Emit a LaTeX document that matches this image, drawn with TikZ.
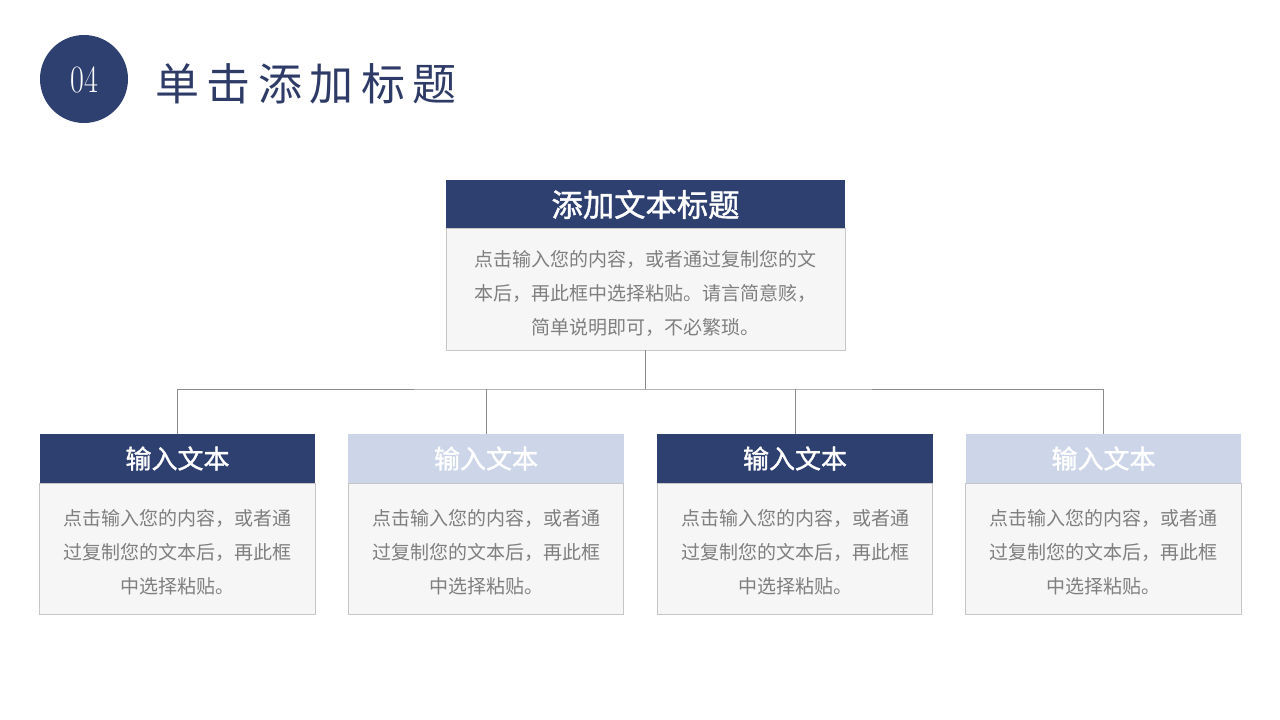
\documentclass[tikz,border=0pt]{standalone}
\usepackage{fontspec}
\newfontfamily\cjk{Noto Sans CJK SC}
\newfontfamily\cjkhead{Noto Sans CJK SC}[FakeBold=1.3]
\newfontfamily\cjktitle{Noto Sans CJK SC}[LetterSpace=17]
\definecolor{navy}{HTML}{2E4070}
\definecolor{lightnavy}{HTML}{CDD5E8}
\definecolor{bodyfill}{HTML}{F6F6F6}
\definecolor{bodyline}{HTML}{C6C6C6}
\definecolor{txtgray}{HTML}{7F7F7F}
\definecolor{linkgray}{HTML}{8C8C8C}
\definecolor{titlecol}{HTML}{2E3B66}
\tikzset{
  darkhead/.style={rectangle, fill=navy, inner sep=0pt, outer sep=0pt, text=white},
  lighthead/.style={rectangle, fill=lightnavy, inner sep=0pt, outer sep=0pt, text=white},
  bodybox/.style={rectangle, fill=bodyfill, draw=bodyline, line width=0.75pt, inner sep=0pt, outer sep=0pt},
  bodytext/.style={text=txtgray, align=center, inner sep=0pt, font=\cjk\fontsize{14.25}{25.5}\selectfont},
  smallhead/.style={minimum width=206.6pt, minimum height=36.75pt, font=\cjkhead\fontsize{19.5}{20}\selectfont},
  smallbody/.style={bodybox, minimum width=206.6pt, minimum height=98.25pt, anchor=north},
  link/.style={draw=linkgray, line width=0.75pt}
}
\begin{document}
\begin{tikzpicture}[x=0.75pt,y=-0.75pt]
\useasboundingbox (0,0) rectangle (1280,720);
% header
\node[circle, fill=navy, minimum size=66pt, inner sep=0pt] (num) at (84,79) {};
\node[text=white, font=\fontsize{29}{29}\selectfont, xscale=0.78] (numtxt) at (84,80) {04};
\node[anchor=west, text=titlecol, font=\cjktitle\fontsize{33}{33}\selectfont, inner sep=0pt] (title) at (155,84) {单击添加标题};
% top box
\node[darkhead, minimum width=299.25pt, minimum height=36.75pt, font=\cjkhead\fontsize{23.5}{24}\selectfont] (tophead) at (645.5,204.5) {添加文本标题};
\node[bodybox, minimum width=299.25pt, minimum height=90.75pt, anchor=north] (topbody) at (tophead.south) {};
\node[bodytext] (toptext) at (645.5,293) {点击输入您的内容，或者通过复制您的文\\本后，再此框中选择粘贴。请言简意赅，\\简单说明即可，不必繁琐。};
% bottom boxes
\node[darkhead, smallhead] (h1) at (177.5,458.5) {输入文本};
\node[lighthead, smallhead] (h2) at (486,458.5) {输入文本};
\node[darkhead, smallhead] (h3) at (795,458.5) {输入文本};
\node[lighthead, smallhead] (h4) at (1103.5,458.5) {输入文本};
\foreach \i in {1,2,3,4}{
  \node[smallbody] (b\i) at (h\i.south) {};
  \node[bodytext] (t\i) at ([yshift=-3pt]b\i.center) {点击输入您的内容，或者通\\过复制您的文本后，再此框\\中选择粘贴。};
}
% connectors
\coordinate (bus) at (645.5,389);
\draw[link] (topbody.south) -- (bus);
\draw[link] (h1.north) |- (bus) -| (h4.north);
\draw[link] (h2.north) -- (h2.north |- bus);
\draw[link] (h3.north) -- (h3.north |- bus);
\end{tikzpicture}
\end{document}
